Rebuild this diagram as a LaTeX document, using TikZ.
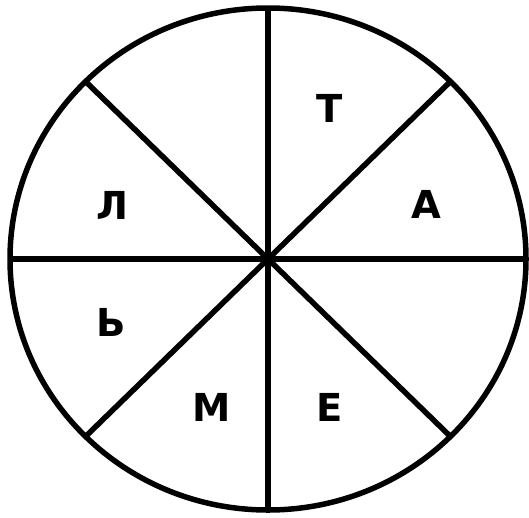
\documentclass[tikz,border=0pt]{standalone}
\usepackage{fontspec}
\setsansfont{DejaVu Sans}
\begin{document}
\begin{tikzpicture}[x=1pt,y=-1pt,line width=5.5pt,
  letter/.style={font=\sffamily\bfseries\fontsize{38.5}{38.5}\selectfont,inner sep=0pt}]
\useasboundingbox (0,0) rectangle (529,517);
\coordinate (c) at (268,259);
\draw (c) ellipse [x radius=258pt, y radius=251pt];
\foreach \a in {0,45,...,315}{
  \path (c) ++(\a:258pt and 251pt) coordinate (r\a);
  \draw (c) -- (r\a);
}
\node[letter] (t) at (330,108) {Т};
\node[letter] (a) at (426,204) {А};
\node[letter] (l) at (112,205) {Л};
\node[letter] (mz) at (111,322) {Ь};
\node[letter] (m) at (212,407) {М};
\node[letter] (e) at (330,407) {Е};
\end{tikzpicture}
\end{document}
